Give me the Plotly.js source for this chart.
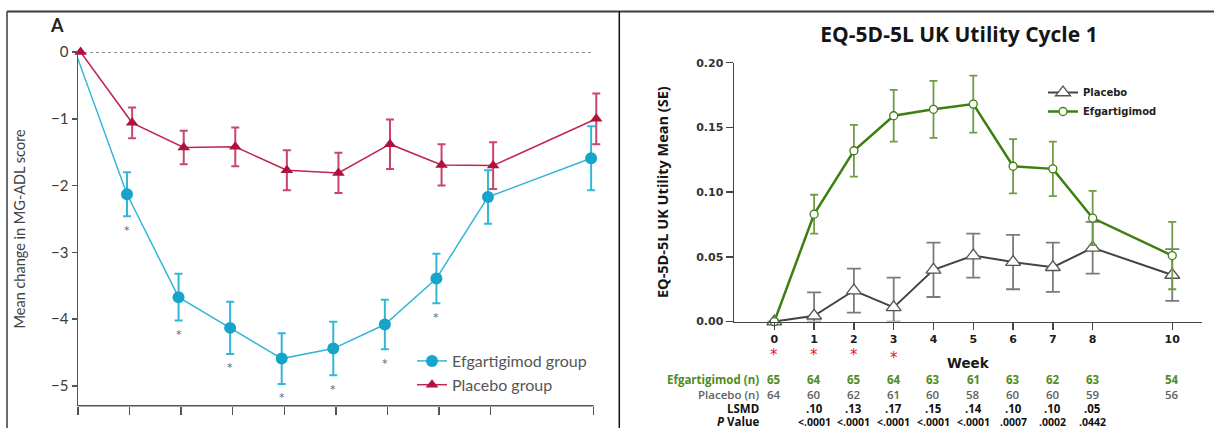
<!DOCTYPE html>
<html>
<head>
<meta charset="utf-8">
<script src="https://cdn.plot.ly/plotly-3.0.1.min.js"></script>
<style>html,body{margin:0;padding:0;background:#fff;}#chart{width:1214px;height:428px;}</style>
</head>
<body>
<div id="chart"></div>
<script>
// ---------- Panel A: MG-ADL ----------
const weeksA = [0, 1, 2, 3, 4, 5, 6, 7, 8, 10];
const efgA = [0, -2.13, -3.67, -4.13, -4.59, -4.44, -4.08, -3.39, -2.17, -1.59];
const efgA_se = [0, 0.33, 0.35, 0.39, 0.38, 0.40, 0.37, 0.37, 0.40, 0.48];
const plaA = [0, -1.06, -1.43, -1.42, -1.77, -1.81, -1.38, -1.69, -1.70, -1.00];
const plaA_se = [0, 0.23, 0.25, 0.29, 0.30, 0.30, 0.37, 0.31, 0.35, 0.38];
const starWeeksA = [1, 2, 3, 4, 5, 6, 7];
const yTicksA = [0, -1, -2, -3, -4, -5];

// ---------- Panel B: EQ-5D-5L ----------
const weeksB = [0, 1, 2, 3, 4, 5, 6, 7, 8, 10];
const efgB = [0, 0.083, 0.132, 0.159, 0.164, 0.168, 0.120, 0.118, 0.080, 0.051];
const efgB_se = [0, 0.015, 0.020, 0.020, 0.022, 0.022, 0.021, 0.021, 0.021, 0.026];
const plaB = [0, 0.0045, 0.024, 0.011, 0.040, 0.051, 0.046, 0.042, 0.057, 0.036];
const plaB_se = [0, 0.018, 0.017, 0.023, 0.021, 0.017, 0.021, 0.019, 0.020, 0.020];
const starWeeksB = [0, 1, 2, 3];
const yTicksB = [0, 0.05, 0.10, 0.15, 0.20];

// table below panel B
const tableWeeks = [0, 1, 2, 3, 4, 5, 6, 7, 8, 10];
const efgN = ['65', '64', '65', '64', '63', '61', '63', '62', '63', '54'];
const plaN = ['64', '60', '62', '61', '60', '58', '60', '60', '59', '56'];
const lsmd = ['', '.10', '.13', '.17', '.15', '.14', '.10', '.10', '.05', ''];
const pval = ['', '<.0001', '<.0001', '<.0001', '<.0001', '<.0001', '.0007', '.0002', '.0442', ''];

const W = 1214, H = 428;
const px = x => x / W;
const py = y => 1 - y / H;

const blue = '#17a4ca', blueLine = '#34b6d8';
const red = '#b0123f', redLine = '#c0254f', redErr = '#c9456b';
const green = '#3d7f12', greenErr = '#6f9c45';
const gray = '#444444', grayErr = '#7a7a7a';

const dodge = 0.05;
const unitA = 51.57;        // px per week in panel A
const xMaxA = 10.3;

const traces = [
  {
    x: weeksA.map(w => w - dodge), y: efgA, xaxis: 'x', yaxis: 'y',
    type: 'scatter', mode: 'lines+markers', name: 'Efgartigimod group',
    line: {color: blueLine, width: 1.5},
    marker: {color: blue, size: 12, symbol: 'circle'},
    error_y: {type: 'data', array: efgA_se, visible: true, color: blueLine, thickness: 2, width: 4},
    cliponaxis: false, legend: 'legend'
  },
  {
    x: weeksA.map(w => w + dodge), y: plaA, xaxis: 'x', yaxis: 'y',
    type: 'scatter', mode: 'lines+markers', name: 'Placebo group',
    line: {color: redLine, width: 1.5},
    marker: {color: red, size: 11, symbol: 'triangle-up'},
    error_y: {type: 'data', array: plaA_se, visible: true, color: redErr, thickness: 2, width: 4},
    cliponaxis: false, legend: 'legend'
  },
  {
    x: weeksB, y: plaB, xaxis: 'x2', yaxis: 'y2',
    type: 'scatter', mode: 'lines+markers', name: 'Placebo',
    line: {color: gray, width: 2},
    marker: {color: '#ffffff', size: 13, symbol: 'triangle-up', line: {color: '#555', width: 1.3}},
    error_y: {type: 'data', array: plaB_se, arrayminus: plaB.map((v, i) => Math.min(v, plaB_se[i])),
              visible: true, color: grayErr, thickness: 1.8, width: 7},
    cliponaxis: false, legend: 'legend2', legendrank: 1
  },
  {
    x: weeksB, y: efgB, xaxis: 'x2', yaxis: 'y2',
    type: 'scatter', mode: 'lines+markers', name: 'Efgartigimod',
    line: {color: green, width: 2.5},
    marker: {color: '#ffffff', size: 8, symbol: 'circle', line: {color: green, width: 1.3}},
    error_y: {type: 'data', array: efgB_se, visible: true, color: greenErr, thickness: 1.8, width: 4},
    cliponaxis: false, legend: 'legend2', legendrank: 2
  }
];

const annotations = [];
// Panel label
annotations.push({text: '<b>A</b>', x: px(57), y: py(25), xref: 'paper', yref: 'paper',
  xanchor: 'center', yanchor: 'middle', showarrow: false,
  font: {family: 'Lato', size: 18, color: '#222'}});
// asterisks panel A
starWeeksA.forEach(w => {
  const i = weeksA.indexOf(w);
  annotations.push({text: '*', x: w - dodge, y: efgA[i] - efgA_se[i], xref: 'x', yref: 'y',
    yanchor: 'middle', yshift: -14, showarrow: false, font: {family: 'DejaVu Sans', size: 11, color: '#666'}});
});
// asterisks panel B (red)
starWeeksB.forEach(w => {
  annotations.push({text: '*', x: w, y: py(w === 3 ? 358 : 355), xref: 'x2', yref: 'paper',
    yanchor: 'middle', showarrow: false,
    font: {family: 'DejaVu Sans', size: 15, color: '#e0201f'}});
});
// table rows
const rows = [
  {label: '<b>Efgartigimod (n)</b>', vals: efgN, y: 379.5, color: '#4f8c23', bold: true, size: 11.5},
  {label: 'Placebo (n)', vals: plaN, y: 394, color: '#5f5f5f', bold: false, size: 11.5},
  {label: '<b>LSMD</b>', vals: lsmd, y: 408, color: '#111', bold: true, size: 11.5},
  {label: '<b><i>P</i> Value</b>', vals: pval, y: 421.5, color: '#111', bold: true, size: 10.5}
];
rows.forEach(r => {
  annotations.push({text: r.label, x: px(761), y: py(r.y), xref: 'paper', yref: 'paper',
    xanchor: 'right', yanchor: 'middle', showarrow: false,
    font: {family: 'Open Sans', size: 11.5, color: r.color, weight: r.bold ? 700 : 600}});
  r.vals.forEach((v, i) => {
    if (!v) return;
    annotations.push({text: v, x: tableWeeks[i], y: py(r.y), xref: 'x2', yref: 'paper',
      xanchor: 'center', yanchor: 'middle', showarrow: false,
      font: {family: 'Open Sans', size: r.size, color: r.color, weight: r.bold ? 700 : 600}});
  });
});

const shapes = [
  // zero reference line panel A
  {type: 'line', xref: 'x', yref: 'y', x0: 0, x1: 10, y0: 0, y1: 0,
   line: {color: '#666', width: 1.5, dash: '3px,3px'}, layer: 'below'},
  // panel A x-axis line (ends at week 10)
  {type: 'line', xref: 'x', yref: 'y domain', x0: 0, x1: 10, y0: 0, y1: 0,
   line: {color: '#555', width: 1.5}},
  // frame lines
  {type: 'line', xref: 'paper', yref: 'paper', x0: px(7), x1: 1, y0: py(11.5), y1: py(11.5), line: {color: '#3a3a3a', width: 2}},
  {type: 'line', xref: 'paper', yref: 'paper', x0: px(7), x1: px(7), y0: py(11.5), y1: 0, line: {color: '#3a3a3a', width: 1.5}},
  {type: 'line', xref: 'paper', yref: 'paper', x0: px(619.3), x1: px(619.3), y0: py(11.5), y1: 0, line: {color: '#111', width: 1.5}}
];

const layout = {
  width: W, height: H, autosize: false,
  margin: {l: 0, r: 0, t: 0, b: 0},
  paper_bgcolor: '#fff', plot_bgcolor: 'rgba(0,0,0,0)',
  showlegend: true,
  title: {text: 'EQ-5D-5L UK Utility Cycle 1', x: px(959), xanchor: 'center', y: py(35), yanchor: 'middle',
          font: {family: 'Open Sans', size: 21, weight: 700, color: '#151515'}},
  xaxis: {domain: [px(78), px(78 + xMaxA * unitA)], range: [0, xMaxA], anchor: 'y',
          tickvals: [0, 1, 2, 3, 4, 5, 6, 7, 8, 10], showticklabels: false,
          ticks: 'outside', ticklen: 8, tickwidth: 1.5, tickcolor: '#555',
          showline: false, showgrid: false, zeroline: false, fixedrange: true},
  yaxis: {domain: [py(405.7), py(52)], range: [-5.295, 0], anchor: 'x',
          tickvals: yTicksA, ticks: 'outside', ticklen: 5, tickwidth: 1.5, tickcolor: '#555',
          showline: true, linecolor: '#555', linewidth: 1.5, showgrid: false, zeroline: false,
          tickfont: {family: 'Lato', size: 15, color: '#3a3a3a'},
          title: {text: 'Mean change in MG-ADL score', standoff: 22,
                  font: {family: 'Lato', size: 14.5, color: '#444'}}},
  xaxis2: {domain: [px(734), px(1201.7)], range: [-1.013, 10.74], anchor: 'y2',
           tickvals: [0, 1, 2, 3, 4, 5, 6, 7, 8, 10],
           ticks: 'outside', ticklen: 7, tickwidth: 1.5, tickcolor: '#444',
           showline: true, linecolor: '#444', linewidth: 1.5, showgrid: false, zeroline: false,
           tickfont: {family: 'DejaVu Sans', size: 11, weight: 700, color: '#1a1a1a'},
           title: {text: 'Week', standoff: 13, font: {family: 'DejaVu Sans', size: 13.5, weight: 700, color: '#1a1a1a'}}},
  yaxis2: {domain: [py(321.6), py(62.7)], range: [0, 0.2], anchor: 'x2',
           tickvals: yTicksB, tickformat: '.2f',
           ticks: 'outside', ticklen: 7, tickwidth: 1.5, tickcolor: '#444',
           showline: true, linecolor: '#444', linewidth: 1.5, showgrid: false, zeroline: false,
           tickfont: {family: 'DejaVu Sans', size: 11, weight: 700, color: '#333'},
           title: {text: 'EQ-5D-5L UK Utility Mean (SE)', standoff: 24,
                   font: {family: 'Open Sans', size: 14.5, weight: 700, color: '#151515'}}},
  legend: {x: px(412), y: py(344), xanchor: 'left', yanchor: 'top', bgcolor: 'rgba(0,0,0,0)',
           font: {family: 'Lato', size: 16, color: '#555'}, tracegroupgap: 0, itemclick: false},
  legend2: {x: px(1043), y: py(78), xanchor: 'left', yanchor: 'top', bgcolor: 'rgba(0,0,0,0)',
            font: {family: 'DejaVu Sans', size: 10, weight: 700, color: '#222'}, tracegroupgap: 0, itemclick: false},
  annotations: annotations,
  shapes: shapes
};

Plotly.newPlot('chart', traces, layout, {displayModeBar: false, staticPlot: true});
</script>
</body>
</html>
